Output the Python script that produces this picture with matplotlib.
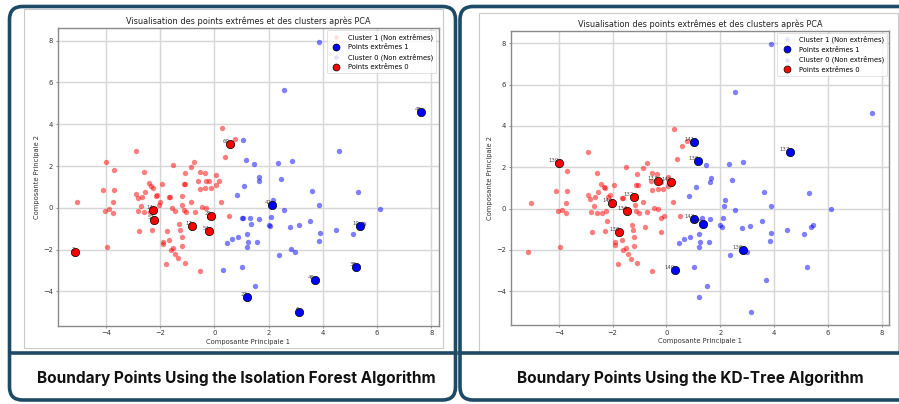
import matplotlib
matplotlib.use('Agg')
import matplotlib.pyplot as plt
from matplotlib.patches import FancyBboxPatch, Rectangle
from matplotlib.lines import Line2D

# nuage rouge (composantes principales 1 et 2)
red_x = [0.27, 0.77, 0.38, 0.56, -2.90, -4.00, -3.71, -1.51, -0.74, -0.87,
         -1.08, -0.55, -0.34, 0.06, -2.59, -0.59, -0.31, -0.20, 0.17, 0.06,
         -1.14, -1.07, -1.95, -2.43, -2.33, -2.28, -0.55, -0.33, -0.13, -4.09,
         -3.71, -2.90, -2.55, -2.66, -2.83, -2.10, -2.16, -1.67, -1.63, -1.21,
         -5.05, -3.75, -4.02, -3.88, -3.73, -2.71, -2.81, -2.59, -2.01, -2.05,
         -2.39, -2.77, -2.29, -3.96, -1.55, -1.46, -1.18, -1.13, -1.03, -0.87,
         -0.72, -0.45, -0.32, 0.26, 0.52, -1.75, -1.30, -1.26, -1.20, -1.67,
         -1.90, -1.90, -1.52, -1.61, -1.21, -1.44, -1.33, -1.10, -1.80, -0.55,
         -0.20, -2.25, -2.21, -0.81, -0.11, -0.20, -5.14]
red_y = [3.84, 3.29, 2.42, 3.05, 2.73, 2.19, 1.83, 2.03, 2.20, 1.95,
         1.69, 1.72, 1.69, 1.55, 1.71, 1.31, 1.31, 1.28, 1.28, 1.10,
         1.13, 1.13, 1.12, 1.18, 1.04, 0.97, 0.91, 0.96, 0.96, 0.84,
         0.84, 0.67, 0.78, 0.54, 0.46, 0.64, 0.55, 0.52, 0.52, 0.57,
         0.29, 0.29, -0.14, -0.06, -0.24, 0.10, -0.16, -0.22, 0.27, 0.16,
         -0.21, -1.12, -1.07, -1.88, -0.02, -0.14, 0.16, -0.10, -0.21, 0.30,
         -0.18, 0.03, -0.02, 0.30, -0.38, -1.12, -0.78, -1.05, -1.40, -1.52,
         -1.61, -1.75, -1.91, -2.01, -1.80, -2.22, -2.42, -2.63, -2.68, -3.03,
         -0.45, -0.10, -0.59, -0.89, -0.38, -1.13, -2.12]

# nuage bleu
blue_x = [3.87, 2.56, 4.59, 1.04, 1.18, 1.47, 2.34, 2.85, 1.66, 1.63,
          2.44, 1.08, 0.85, 3.61, 5.31, 2.16, 2.55, 3.87, 6.10, 1.03,
          1.07, 1.31, 1.34, 1.63, 2.00, 2.06, 2.09, 2.80, 3.12, 3.54,
          3.90, 3.85, 4.48, 5.12, 5.46, 5.36, 0.48, 0.64, 0.88, 1.20,
          1.23, 1.19, 1.58, 2.83, 2.98, 2.37, 0.31, 1.03, 1.50, 5.22,
          3.71, 1.20, 3.13, 7.63, 2.12]
blue_y = [7.96, 5.65, 2.74, 3.24, 2.31, 2.12, 2.15, 2.25, 1.46, 1.28,
          1.36, 1.05, 0.62, 0.81, 0.77, 0.40, -0.08, 0.14, -0.03, -0.49,
          -0.49, -0.47, -0.75, -0.53, -0.80, -0.88, -0.46, -0.93, -0.84, -0.61,
          -1.20, -1.58, -1.05, -1.23, -0.78, -0.89, -1.66, -1.47, -1.39, -1.23,
          -1.61, -1.87, -1.64, -1.99, -2.09, -2.25, -2.98, -2.82, -3.76, -2.85,
          -3.44, -4.26, -4.99, 4.61, 0.14]

# points extrêmes (indices dans les nuages) et leurs étiquettes
if_red_idx = [3, 81, 82, 83, 84, 85, 86]
if_red_lab = ['60', '14', '52', '17', '29', '54', '2']
if_blue_idx = [53, 54, 35, 49, 50, 51, 52]
if_blue_lab = ['48', '42', '10', '38', '46', '27', '6']

kd_red_idx = [5, 16, 18, 39, 48, 55, 65]
kd_red_lab = ['139', '133', '142', '132', '144', '134', '130']
kd_blue_idx = [3, 4, 2, 19, 22, 43, 46]
kd_blue_lab = ['141', '138', '137', '143', '145', '136', '140']

chart_title = 'Visualisation des points extrêmes et des clusters après PCA'
captions = ['Boundary Points Using the Isolation Forest Algorithm',
            'Boundary Points Using the KD-Tree Algorithm']
legend_labels = ['Cluster 1 (Non extrêmes)', 'Points extrêmes 1',
                 'Cluster 0 (Non extrêmes)', 'Points extrêmes 0']

W, H = 899, 404
navy = '#1d4b66'
fs = 4.85

fig = plt.figure(figsize=(W / 100, H / 100), dpi=100)
bg = fig.add_axes([0, 0, 1, 1])
bg.set_xlim(0, W)
bg.set_ylim(H, 0)
bg.axis('off')

# cadres des deux panneaux
for x0, x1, cx, cap in [(9.5, 455.5, 236.3, captions[0]), (460, 930, 690.8, captions[1])]:
    bg.add_patch(FancyBboxPatch((x0, 6.5), x1 - x0, 393.5,
                                boxstyle='round,pad=0,rounding_size=13',
                                fc='white', ec=navy, lw=2.6))
    bg.plot([x0, x1], [353, 353], color=navy, lw=2.6)
    bg.text(cx, 378.5, cap, ha='center', va='center', fontsize=11.1,
            fontweight='bold', family=['Inter', 'DejaVu Sans'], color='#111111')

# bord gris des captures
bg.add_patch(Rectangle((24.3, 9.3), 419, 339, fill=False, ec='#c9c9c9', lw=0.8))
bg.add_patch(Rectangle((479.3, 13.3), 419, 339, fill=False, ec='#c9c9c9', lw=0.8))


def px_axes(l, t, r, b):
    return fig.add_axes([l / W, 1 - b / H, (r - l) / W, (b - t) / H])


def draw(ax, red_ext, red_lab, blue_ext, blue_lab, leg_colors):
    red_keep = [i for i in range(len(red_x)) if i not in red_ext]
    blue_keep = [i for i in range(len(blue_x)) if i not in blue_ext]
    ax.scatter([red_x[i] for i in red_keep], [red_y[i] for i in red_keep],
               s=15, c='red', alpha=0.5, lw=0)
    ax.scatter([blue_x[i] for i in blue_ext], [blue_y[i] for i in blue_ext],
               s=36, c='blue', edgecolors='black', lw=0.5, zorder=3)
    ax.scatter([blue_x[i] for i in blue_keep], [blue_y[i] for i in blue_keep],
               s=15, c='blue', alpha=0.5, lw=0)
    ax.scatter([red_x[i] for i in red_ext], [red_y[i] for i in red_ext],
               s=36, c='red', edgecolors='black', lw=0.5, zorder=3)
    for i, lab in zip(red_ext, red_lab):
        ax.text(red_x[i], red_y[i], lab, fontsize=3.9, ha='right', va='bottom',
                color='#222222', alpha=0.8, zorder=4)
    for i, lab in zip(blue_ext, blue_lab):
        ax.text(blue_x[i], blue_y[i], lab, fontsize=3.9, ha='right', va='bottom',
                color='#222222', alpha=0.8, zorder=4)

    handles = []
    for k, col in enumerate(leg_colors):
        if k % 2 == 0:
            handles.append(Line2D([], [], marker='o', ls='', markersize=3.2,
                                  mfc=col, mec='none', alpha=0.3))
        else:
            handles.append(Line2D([], [], marker='o', ls='', markersize=5,
                                  mfc=col, mec='black', mew=0.5))
    leg = ax.legend(handles, legend_labels, loc='upper right', fontsize=fs,
                    borderaxespad=0.35, handletextpad=0.8, labelspacing=0.5)
    leg.get_frame().set_linewidth(0.5)

    ax.set_xticks(range(-4, 9, 2))
    ax.set_yticks(range(-4, 9, 2))
    ax.grid(True, color='#d6d6d6', lw=1.0)
    ax.set_axisbelow(True)
    ax.set_title(chart_title, fontsize=5.9, color='#222222', pad=3)
    ax.set_xlabel('Composante Principale 1', fontsize=fs, color='#333333', labelpad=2)
    ax.set_ylabel('Composante Principale 2', fontsize=fs, color='#333333', labelpad=2)
    ax.tick_params(labelsize=fs, length=1.7, width=0.4, pad=1.7,
                   colors='#333333')
    for sp in ax.spines.values():
        sp.set_color('#8a8a8a')
        sp.set_linewidth(1.0)


ax1 = px_axes(57.7, 28, 438.7, 325.7)
draw(ax1, if_red_idx, if_red_lab, if_blue_idx, if_blue_lab,
     ['#ff9999', 'blue', '#9999ff', 'red'])

ax2 = px_axes(511, 30.7, 889, 325)
draw(ax2, kd_red_idx, kd_red_lab, kd_blue_idx, kd_blue_lab,
     ['#9999ff', 'blue', '#9999ff', 'red'])

fig.savefig('out.png', dpi=100)
